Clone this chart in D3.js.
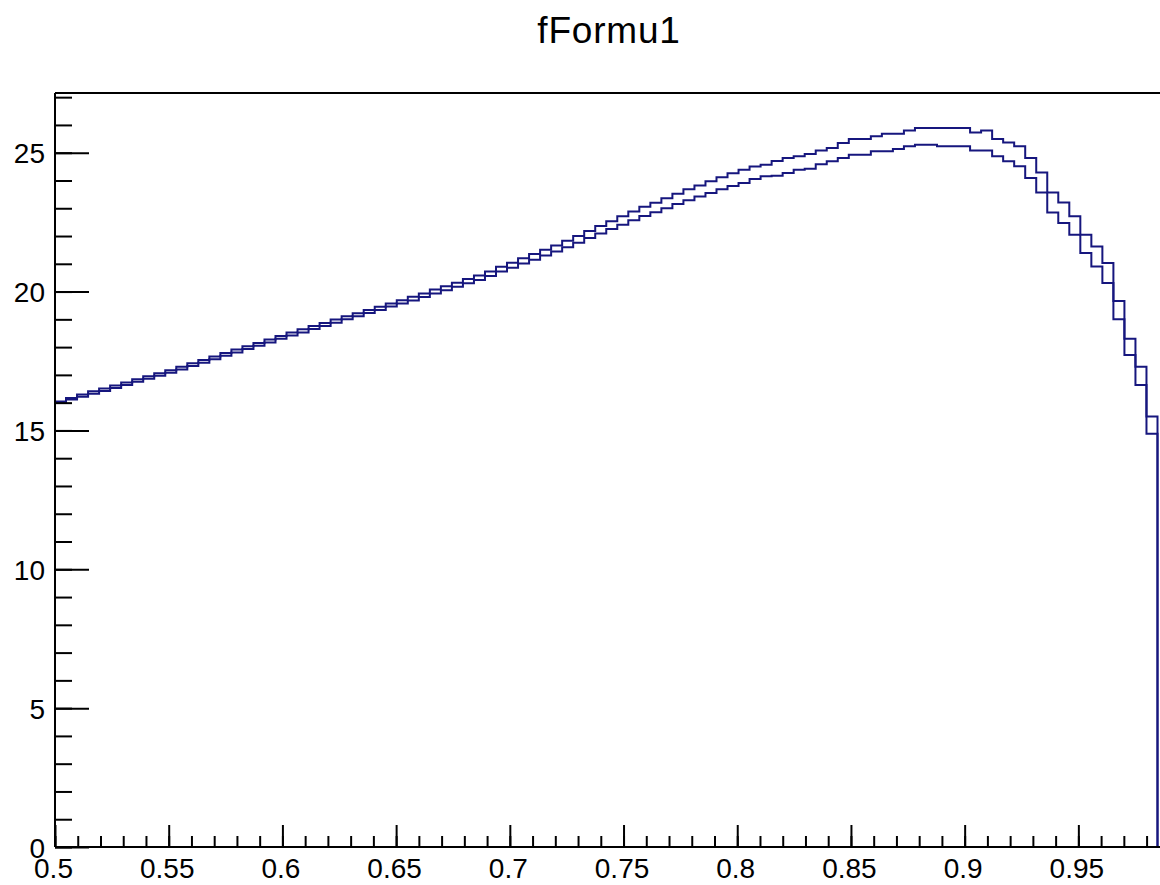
<!DOCTYPE html>
<html>
<head>
<meta charset="utf-8">
<script src="https://cdn.jsdelivr.net/npm/d3@7"></script>
<style>
  html, body { margin: 0; padding: 0; background: #ffffff; }
  svg { display: block; }
  text { font-family: "Liberation Sans", Arial, Helvetica, sans-serif; fill: #000; }
</style>
</head>
<body>
<svg id="chart" width="1160" height="885"></svg>
<script>
// ---- data ----
const chartTitle = "fFormu1";
const xMin = 0.5;
const xMax = 0.9848;
const yMax = 27.15;

const xTickValues = [0.5, 0.55, 0.6, 0.65, 0.7, 0.75, 0.8, 0.85, 0.9, 0.95];
const xTickLabels = ["0.5", "0.55", "0.6", "0.65", "0.7", "0.75", "0.8", "0.85", "0.9", "0.95"];
const yTickValues = [0, 5, 10, 15, 20, 25];
const yTickLabels = ["0", "5", "10", "15", "20", "25"];

// bin contents, 100 equal bins between xMin and xMax
const upperCounts = [
  16.04, 16.17, 16.29, 16.41, 16.51, 16.62, 16.73, 16.84, 16.95, 17.06,
  17.17, 17.29, 17.42, 17.54, 17.66, 17.79, 17.91, 18.03, 18.15, 18.27,
  18.40, 18.53, 18.64, 18.76, 18.87, 18.99, 19.11, 19.22, 19.34, 19.45,
  19.57, 19.69, 19.81, 19.93, 20.07, 20.19, 20.32, 20.45, 20.58, 20.72,
  20.89, 21.04, 21.20, 21.35, 21.51, 21.66, 21.83, 22.00, 22.18, 22.36,
  22.53, 22.71, 22.88, 23.05, 23.20, 23.36, 23.52, 23.68, 23.82, 23.97,
  24.12, 24.26, 24.39, 24.50, 24.57, 24.70, 24.81, 24.87, 24.95, 25.08,
  25.17, 25.35, 25.49, 25.49, 25.59, 25.68, 25.68, 25.80, 25.89, 25.89,
  25.89, 25.89, 25.89, 25.73, 25.80, 25.49, 25.37, 25.23, 24.81, 24.29,
  23.57, 23.21, 22.71, 22.05, 21.62, 21.03, 19.66, 18.30, 17.29, 15.50
];
const lowerCounts = [
  16.02, 16.11, 16.21, 16.32, 16.42, 16.53, 16.64, 16.75, 16.86, 16.97,
  17.08, 17.19, 17.32, 17.44, 17.56, 17.69, 17.81, 17.93, 18.05, 18.17,
  18.30, 18.42, 18.53, 18.65, 18.76, 18.88, 19.00, 19.11, 19.23, 19.34,
  19.46, 19.57, 19.68, 19.80, 19.93, 20.05, 20.17, 20.30, 20.42, 20.56,
  20.72, 20.86, 21.01, 21.15, 21.30, 21.44, 21.60, 21.76, 21.93, 22.09,
  22.25, 22.41, 22.57, 22.72, 22.86, 23.00, 23.15, 23.29, 23.42, 23.55,
  23.68, 23.80, 23.91, 24.05, 24.15, 24.17, 24.27, 24.39, 24.42, 24.58,
  24.69, 24.81, 24.93, 24.93, 25.05, 25.05, 25.13, 25.23, 25.29, 25.29,
  25.23, 25.23, 25.23, 25.08, 25.08, 24.87, 24.69, 24.51, 24.09, 23.57,
  22.85, 22.47, 22.05, 21.39, 20.90, 20.31, 19.00, 17.72, 16.64, 14.88
];

// ---- layout ----
const frame = { left: 55, right: 1157.5, top: 93, bottom: 847 };
const lineColor = "#16167e";

const svg = d3.select("#chart");

const x = d3.scaleLinear().domain([xMin, xMax]).range([frame.left, frame.right]);
const y = d3.scaleLinear().domain([0, yMax]).range([frame.bottom, frame.top]);

// title
svg.append("text")
  .attr("x", 609).attr("y", 43)
  .attr("text-anchor", "middle")
  .attr("font-size", 37)
  .attr("letter-spacing", 0.8)
  .text(chartTitle);

// top edge of the frame, running off the right side of the canvas
svg.append("line")
  .attr("x1", frame.left).attr("x2", 1160)
  .attr("y1", frame.top).attr("y2", frame.top)
  .attr("stroke", "#000").attr("stroke-width", 2);

// step outline of a histogram: starts and ends on the zero line
function stepPoints(counts) {
  const n = counts.length;
  const w = (xMax - xMin) / n;
  const pts = [[xMin, 0]];
  counts.forEach((c, i) => {
    pts.push([xMin + i * w, c]);
    pts.push([xMin + (i + 1) * w, c]);
  });
  pts.push([xMax, 0]);
  return pts;
}
const stepLine = d3.line().x(d => x(d[0])).y(d => y(d[1]));

[upperCounts, lowerCounts].forEach(counts => {
  svg.append("path")
    .attr("d", stepLine(stepPoints(counts)))
    .attr("fill", "none")
    .attr("stroke", lineColor)
    .attr("stroke-width", 2)
    .attr("stroke-linejoin", "miter");
});

// ---- axes (drawn over the histograms) ----
const tickStroke = 2;

// x minor ticks every 0.01
const xMinor = d3.range(50, 99).map(v => v / 100).filter(v => v <= xMax);
svg.append("g")
  .attr("transform", `translate(0,${frame.bottom})`)
  .call(d3.axisBottom(x).tickValues(xMinor).tickFormat("").tickSizeInner(-11).tickSizeOuter(0))
  .call(g => g.select(".domain").remove())
  .call(g => g.selectAll("line").attr("stroke", "#000").attr("stroke-width", tickStroke));

// x major ticks and labels
svg.append("g")
  .attr("transform", `translate(0,${frame.bottom})`)
  .call(d3.axisBottom(x).tickValues(xTickValues)
    .tickFormat((d, i) => xTickLabels[i]).tickSizeInner(-22).tickSizeOuter(0).tickPadding(11))
  .call(g => g.select(".domain").remove())
  .call(g => g.selectAll("line").attr("stroke", "#000").attr("stroke-width", tickStroke))
  .call(g => g.selectAll("text").attr("font-size", 28).attr("font-family", null).attr("dx", -2));

// y minor ticks every 1
const yMinor = d3.range(0, 28).filter(v => v <= yMax);
svg.append("g")
  .attr("transform", `translate(${frame.left},0)`)
  .call(d3.axisLeft(y).tickValues(yMinor).tickFormat("").tickSizeInner(-17).tickSizeOuter(0))
  .call(g => g.select(".domain").remove())
  .call(g => g.selectAll("line").attr("stroke", "#000").attr("stroke-width", tickStroke));

// y major ticks and labels
svg.append("g")
  .attr("transform", `translate(${frame.left},0)`)
  .call(d3.axisLeft(y).tickValues(yTickValues)
    .tickFormat((d, i) => yTickLabels[i]).tickSizeInner(-34).tickSizeOuter(0).tickPadding(10))
  .call(g => g.select(".domain").remove())
  .call(g => g.selectAll("line").attr("stroke", "#000").attr("stroke-width", tickStroke))
  .call(g => g.selectAll("text").attr("font-size", 28).attr("font-family", null).attr("dy", "0.36em"));

// axis lines
svg.append("line")
  .attr("x1", frame.left).attr("x2", 1160)
  .attr("y1", frame.bottom).attr("y2", frame.bottom)
  .attr("stroke", "#000").attr("stroke-width", 2);
svg.append("line")
  .attr("x1", frame.left).attr("x2", frame.left)
  .attr("y1", frame.top).attr("y2", frame.bottom)
  .attr("stroke", "#000").attr("stroke-width", 2);
</script>
</body>
</html>
